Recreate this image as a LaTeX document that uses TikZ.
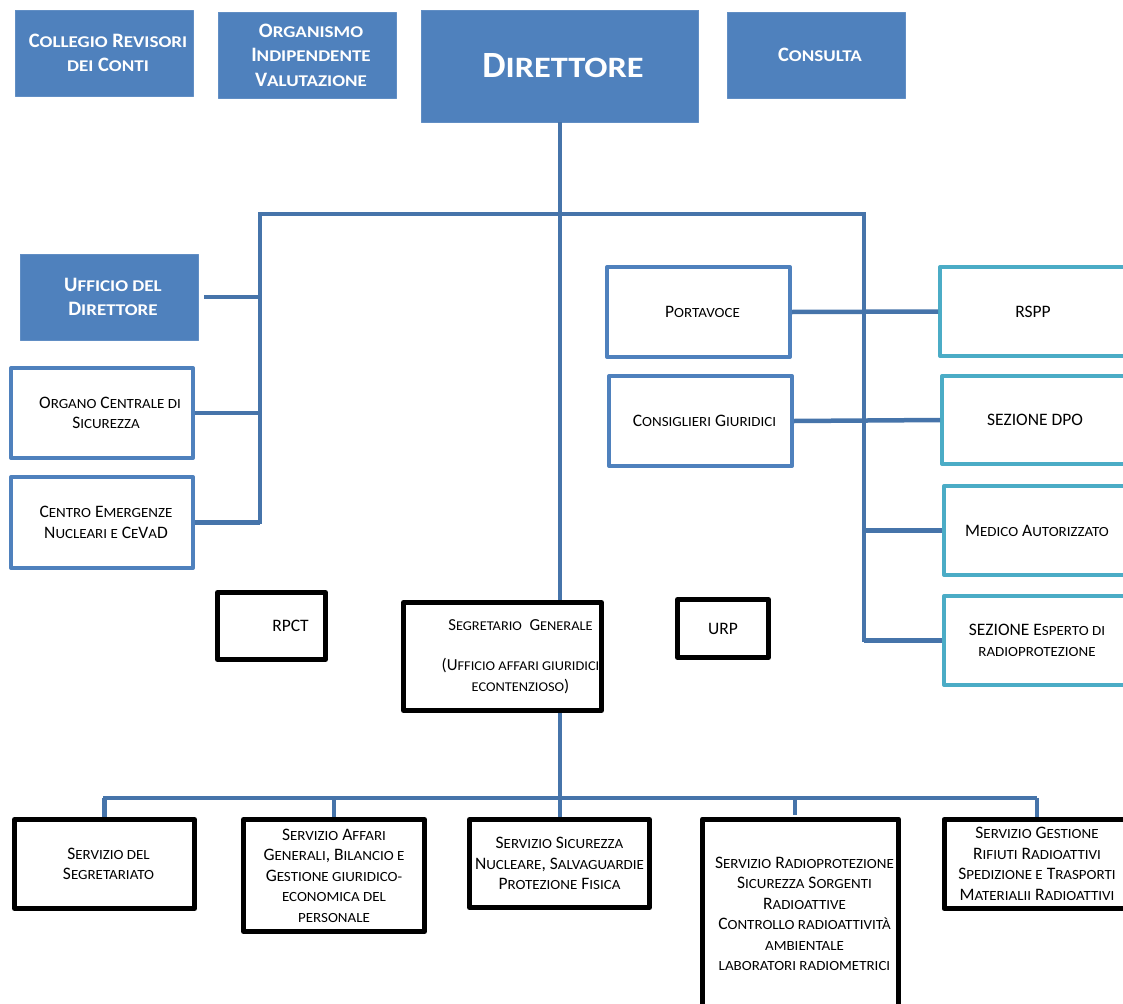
\documentclass[tikz,border=0pt]{standalone}
\usepackage{fontspec}
\setmainfont{Carlito}
\newcommand\lcstretch{1.07}
\makeatletter
\newcommand\lc[1]{{\fontsize{\fpeval{0.8*\f@size}}{\the\baselineskip}\selectfont\addfontfeature{FakeStretch=\lcstretch}\MakeUppercase{#1}}}
\makeatother
\definecolor{boxblue}{RGB}{79,129,189}
\definecolor{lineblue}{RGB}{70,116,170}
\definecolor{teal}{RGB}{75,172,198}
\tikzset{
  base/.style={rectangle, inner sep=0pt, align=center, line join=round},
  filled/.style={base, fill=boxblue, draw=boxblue!90!white, line width=0.8pt, text=white,
     font=\renewcommand\lcstretch{1.16}\bfseries\fontsize{20.5}{24.5}\selectfont},
  smallfont/.style={font=\fontsize{17.5}{20.5}\selectfont},
  bluebox/.style={base, draw=boxblue, line width=4pt, fill=white, smallfont},
  tealbox/.style={base, draw=teal, line width=4pt, fill=white, smallfont},
  blackbox/.style={base, draw=black, line width=5pt, fill=white, smallfont},
  labtext/.style={smallfont, align=center, inner sep=0pt},
  conn/.style={draw=lineblue, line width=4.5pt},
}
\begin{document}
\begin{tikzpicture}[x=1pt,y=-1pt]
\useasboundingbox (0,0) rectangle (1123,1003);
\coordinate (jtop) at (560,214);
\coordinate (jl) at (260,214);
\coordinate (jr) at (864,214);
\coordinate (lb) at (260,524);
\coordinate (rb) at (864,642);
\coordinate (bj) at (560,798);
\coordinate (bl) at (103,798);
\coordinate (br) at (1037,798);

% top row
\node[filled, minimum width=178, minimum height=86] (col) at (104,53) {\hspace*{8pt}C\lc{ollegio} R\lc{evisori}\\\hspace*{8pt}\lc{dei} C\lc{onti}};
\node[filled, minimum width=178, minimum height=86] (oiv) at (307,55) {\hspace*{8pt}O\lc{rganismo}\\\hspace*{8pt}I\lc{ndipendente}\\\hspace*{8pt}V\lc{alutazione}};
\node[filled, minimum width=277, minimum height=112, font=\renewcommand\lcstretch{1.16}\bfseries\fontsize{37}{42}\selectfont] (dir) at (560,66) {\hspace*{6pt}D\lc{irettore}};
\node[filled, minimum width=178, minimum height=86] (cons) at (816,55) {\hspace*{8pt}C\lc{onsulta}};

% left column
\node[filled, minimum width=178, minimum height=86] (uff) at (109,297) {\hspace*{8pt}U\lc{fficio del}\\\hspace*{8pt}D\lc{irettore}};
\node[bluebox, minimum width=182, minimum height=90] (ocs) at (102,413) {\hspace*{16pt}O\lc{rgano} C\lc{entrale di}\\\hspace*{8pt}S\lc{icurezza}};
\node[bluebox, minimum width=182, minimum height=91] (cen) at (102,522.5) {\hspace*{8pt}C\lc{entro} E\lc{mergenze}\\\hspace*{8pt}N\lc{ucleari e} C\lc{e}V\lc{a}D};

% right side
\node[bluebox, minimum width=183, minimum height=90] (port) at (698.5,312) {\hspace*{8pt}P\lc{ortavoce}};
\node[bluebox, minimum width=183, minimum height=90] (cgiu) at (700.5,421) {\hspace*{8pt}C\lc{onsiglieri} G\lc{iuridici}};
\node[tealbox, minimum width=186, minimum height=89] (rspp) at (1033,311.5) {RSPP};
\node[tealbox, minimum width=186, minimum height=88] (dpo) at (1035,420) {SEZIONE DPO};
\node[tealbox, minimum width=186, minimum height=89] (med) at (1037,530.5) {M\lc{edico} A\lc{utorizzato}};
\node[tealbox, minimum width=186, minimum height=89] (esp) at (1037,640.5) {SEZIONE E\lc{sperto di}\\\lc{radioprotezione}};

% middle
\node[blackbox, minimum width=108, minimum height=67,
  label={[labtext, xshift=19pt]center:RPCT}] (rpct) at (271.5,626) {};
\node[blackbox, minimum width=198, minimum height=108,
  label={[labtext, xshift=18pt, font=\fontsize{16.8}{20.5}\selectfont]center:{S\lc{egretario}\ \ G\lc{enerale}\\[20pt](U\lc{fficio affari giuridici}\\\lc{econtenzioso})}}] (seg) at (502.5,656.5) {};
\node[blackbox, minimum width=91, minimum height=58] (urp) at (723,628.5) {URP};

% bottom
\node[blackbox, minimum width=180, minimum height=89] (s1) at (104.5,864) {\hspace*{8pt}S\lc{ervizio del}\\\hspace*{8pt}S\lc{egretariato}};
\node[blackbox, minimum width=181, minimum height=112] (s2) at (334,875.5) {S\lc{ervizio} A\lc{ffari}\\G\lc{enerali}, B\lc{ilancio e}\\G\lc{estione giuridico-}\\\lc{economica del}\\\lc{personale}};
\node[blackbox, minimum width=180, minimum height=88] (s3) at (559.5,863.5) {S\lc{ervizio} S\lc{icurezza}\\N\lc{ucleare}, S\lc{alvaguardie}\\P\lc{rotezione} F\lc{isica}};
\node[blackbox, minimum width=196, minimum height=190] (s4) at (800.5,914) {\hspace*{8pt}S\lc{ervizio} R\lc{adioprotezione}\\\hspace*{8pt}S\lc{icurezza} S\lc{orgenti}\\\hspace*{8pt}R\lc{adioattive}\\\hspace*{8pt}C\lc{ontrollo radioattività}\\\hspace*{8pt}\lc{ambientale}\\\hspace*{8pt}\lc{laboratori radiometrici}};
\node[blackbox, minimum width=186, minimum height=89] (s5) at (1037,864) {S\lc{ervizio} G\lc{estione}\\R\lc{ifiuti} R\lc{adioattivi}\\S\lc{pedizione e} T\lc{rasporti}\\M\lc{aterialii} R\lc{adioattivi}};

% connectors
\path[conn] (dir.south) -- (dir.south |- seg.north);
\path[conn, line join=miter] (lb) -- (jl) -- (jr) -- (rb);
\path[conn, shorten <=6pt] (uff.east) -- (uff.east -| jl);
\path[conn] (ocs.east) -- (ocs.east -| jl);
\path[conn] (cen.east) -- (cen.east -| jl);
\path[conn] (port.east) -- (rspp.west);
\path[conn] (cgiu.east) -- (dpo.west);
\path[conn] (med.west -| jr) -- (med.west);
\path[conn] (esp.west -| jr) -- (esp.west);
\path[conn] (seg.south -| bj) -- (bj);
\path[conn] (bl) -- (br);
\path[conn] (bl -| s1.north) -- (s1.north);
\path[conn] (bl -| s2.north) -- (s2.north);
\path[conn] (bj) -- (bj |- s3.north);
\path[conn] (bl -| 795,0) -- (795,815);
\path[conn] (bl -| s5.north) -- (s5.north);
\end{tikzpicture}
\end{document}
